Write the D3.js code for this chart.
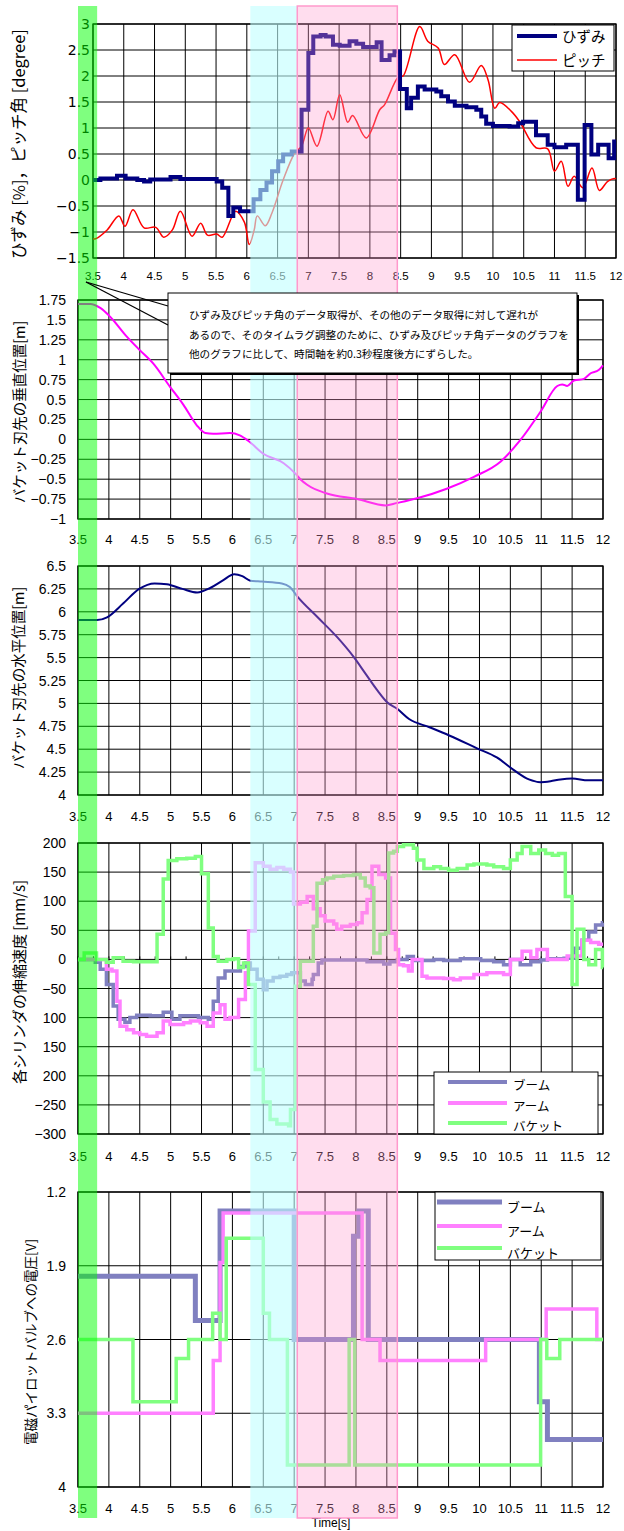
<!DOCTYPE html>
<html>
<head>
<meta charset="utf-8">
<script src="https://cdn.jsdelivr.net/npm/d3@7"></script>
<style>
body { margin: 0; background: #fff; }
</style>
</head>
<body>
<svg id="chart" width="624" height="1531"></svg>
<script>
// ---- data ----
const timeTicks = d3.range(3.5, 12.01, 0.5);

// top panel: strain [%] (step) and pitch [degree]
const strain = [[3.5,0.0],[3.62,0.03],[3.89,0.08],[4.03,0.03],[4.22,0.0],[4.33,-0.03],[4.43,0.01],[4.76,0.06],[4.92,0.02],
  [5.51,-0.03],[5.6,-0.15],[5.7,-0.69],[5.78,-0.53],[5.89,-0.6],[6.08,-0.6],[6.11,-0.37],[6.22,-0.19],[6.32,-0.05],
  [6.41,0.17],[6.51,0.36],[6.59,0.49],[6.73,0.55],[6.89,1.35],[7.0,2.44],[7.08,2.76],[7.2,2.79],[7.28,2.76],[7.4,2.6],
  [7.51,2.58],[7.67,2.67],[7.78,2.62],[7.89,2.56],[8.11,2.65],[8.19,2.31],[8.32,2.4],[8.4,2.47],[8.49,1.75],[8.6,1.38],
  [8.67,1.58],[8.78,1.8],[8.89,1.74],[9.08,1.7],[9.16,1.61],[9.27,1.51],[9.38,1.43],[9.57,1.4],[9.73,1.35],[9.81,1.22],
  [9.89,1.08],[10.0,1.04],[10.27,1.03],[10.41,1.09],[10.49,1.12],[10.7,0.86],[10.89,0.68],[11.0,0.63],[11.19,0.68],
  [11.38,-0.38],[11.49,1.06],[11.6,0.49],[11.71,0.68],[11.88,0.42],[11.97,0.74],[12.0,0.74]];
const pitch = [[3.5,-1.13],[3.54,-1.13],[3.73,-0.96],[3.92,-0.69],[4.02,-0.89],[4.15,-0.57],[4.33,-0.92],[4.52,-0.91],
  [4.65,-1.1],[4.79,-0.96],[4.92,-0.6],[5.11,-1.08],[5.25,-0.83],[5.36,-1.06],[5.51,-1.04],[5.6,-1.1],[5.82,-0.6],
  [5.96,-0.81],[6.04,-1.24],[6.12,-0.96],[6.17,-0.69],[6.3,-0.88],[6.41,-0.63],[6.59,0.0],[6.78,0.52],[6.89,0.65],
  [7.0,1.0],[7.14,0.65],[7.32,1.32],[7.4,1.16],[7.51,1.64],[7.64,1.11],[7.72,1.24],[7.94,0.81],[8.16,1.35],[8.24,1.45],
  [8.46,1.98],[8.54,2.0],[8.81,2.95],[8.94,2.67],[9.11,2.54],[9.21,2.22],[9.38,2.41],[9.62,1.88],[9.81,2.2],[9.92,1.93],
  [10.03,1.38],[10.11,1.49],[10.3,1.32],[10.43,1.13],[10.7,0.62],[10.89,0.6],[11.0,0.17],[11.11,0.36],[11.22,-0.12],
  [11.32,0.07],[11.46,-0.15],[11.61,0.23],[11.73,-0.2],[11.86,-0.03],[11.97,0.03],[12.0,0.02]];

// bucket tip vertical / horizontal position [m]
const vertPos = [[3.5,1.7],[3.7,1.7],[3.86,1.65],[4.02,1.54],[4.29,1.29],[4.5,1.12],[4.72,0.95],[4.99,0.66],[5.21,0.43],
  [5.42,0.18],[5.56,0.08],[5.69,0.07],[5.96,0.08],[6.12,0.05],[6.26,-0.02],[6.5,-0.18],[6.83,-0.3],[7.02,-0.43],[7.1,-0.5],
  [7.21,-0.57],[7.53,-0.68],[8.02,-0.75],[8.48,-0.83],[8.66,-0.8],[8.99,-0.74],[9.47,-0.62],[9.91,-0.47],[10.34,-0.28],
  [10.66,-0.01],[10.99,0.35],[11.26,0.67],[11.34,0.69],[11.42,0.67],[11.53,0.74],[11.69,0.76],[11.8,0.83],[11.93,0.87],[12.0,0.93]];
const horizPos = [[3.5,5.91],[3.81,5.91],[3.97,5.94],[4.23,6.09],[4.49,6.25],[4.74,6.31],[4.94,6.3],[5.19,6.25],[5.43,6.21],
  [5.64,6.26],[5.84,6.34],[6.03,6.41],[6.16,6.39],[6.29,6.34],[6.48,6.33],[6.8,6.31],[6.93,6.27],[7.06,6.16],[7.38,5.94],
  [7.7,5.72],[7.96,5.51],[8.16,5.32],[8.35,5.14],[8.51,5.01],[8.67,4.94],[8.86,4.83],[9.19,4.74],[9.51,4.65],[9.96,4.51],
  [10.28,4.41],[10.54,4.28],[10.8,4.17],[10.99,4.14],[11.15,4.15],[11.31,4.17],[11.5,4.18],[11.76,4.16],[12.0,4.16]];

// cylinder speeds [mm/s] (step)
const boomVel = [[3.5,0],[3.78,-5],[3.86,-17],[3.96,-43],[4.07,-80],[4.15,-103],[4.26,-108],[4.34,-100],[4.45,-96],[4.67,-97],
  [4.88,-91],[5.02,-103],[5.15,-97],[5.45,-100],[5.61,-103],[5.69,-72],[5.77,-32],[5.88,-20],[6.13,-12],[6.21,-6],[6.29,-17],
  [6.4,-34],[6.5,-52],[6.56,-37],[6.66,-31],[6.77,-29],[6.88,-26],[6.96,-23],[7.1,-37],[7.18,-43],[7.29,-34],[7.31,-26],
  [7.39,-6],[7.45,-1],[8.18,-4],[8.45,-8],[8.55,-4],[8.67,0],[8.83,5],[8.93,-2],[9.26,0],[9.42,-2],[9.69,1],[10.02,-2],
  [10.23,-4],[10.39,-9],[10.5,0],[10.66,-9],[10.83,-4],[10.99,-1],[11.1,1],[11.37,2],[11.53,19],[11.66,33],[11.77,47],
  [11.88,59],[11.99,63],[12.0,63]];
const armVel = [[3.5,0],[3.96,-17],[4.05,-20],[4.13,-72],[4.18,-115],[4.29,-121],[4.4,-126],[4.5,-129],[4.61,-132],[4.78,-126],
  [4.88,-106],[4.99,-112],[5.21,-109],[5.32,-106],[5.48,-109],[5.59,-115],[5.69,-92],[5.8,-78],[5.88,-103],[5.96,-100],
  [6.1,-69],[6.21,-23],[6.26,49],[6.37,166],[6.5,160],[6.61,155],[6.72,158],[6.83,155],[6.94,150],[6.99,95],[7.1,98],
  [7.21,108],[7.31,87],[7.42,75],[7.5,66],[7.64,61],[7.69,52],[7.77,57],[7.91,60],[8.02,63],[8.1,80],[8.18,103],[8.26,160],
  [8.37,146],[8.48,140],[8.56,45],[8.64,17],[8.69,-9],[8.77,-11],[8.85,-20],[8.91,0],[9.07,-29],[9.15,-32],[9.42,-33],
  [9.58,-35],[9.69,-32],[9.91,-26],[10.12,-23],[10.39,-26],[10.5,0],[10.69,14],[10.83,3],[10.93,17],[11.1,0],[11.42,6],
  [11.66,33],[11.8,29],[11.93,26],[12.0,26]];
const bucketVel = [[3.5,0],[3.6,11],[3.8,0],[3.96,-5],[4.07,3],[4.23,-3],[4.4,-4],[4.78,43],[4.88,138],[4.96,170],[5.1,173],
  [5.26,174],[5.4,177],[5.5,147],[5.61,54],[5.69,5],[5.77,-3],[5.91,0],[6.02,1],[6.1,-14],[6.18,-6],[6.26,-43],[6.37,-189],
  [6.5,-245],[6.61,-275],[6.72,-283],[6.91,-286],[6.94,-258],[7.02,-46],[7.1,-3],[7.31,57],[7.37,131],[7.46,137],[7.53,140],
  [7.64,143],[7.8,144],[7.96,146],[8.07,140],[8.15,126],[8.23,123],[8.29,11],[8.39,43],[8.48,46],[8.53,183],[8.61,186],
  [8.67,194],[8.77,197],[8.93,191],[8.99,171],[9.1,156],[9.26,159],[9.37,156],[9.5,153],[9.64,156],[9.8,162],[9.91,164],
  [10.12,162],[10.23,159],[10.39,156],[10.5,171],[10.61,182],[10.69,194],[10.83,182],[10.96,188],[11.07,182],[11.18,179],
  [11.28,182],[11.39,108],[11.5,-43],[11.58,52],[11.69,0],[11.77,-9],[11.88,17],[11.99,-14],[12.0,-14]];

// solenoid pilot valve voltage [V] (step)
const boomVolt = [[3.5,2.0],[5.4,2.42],[5.8,1.38],[7.0,2.6],[7.96,1.62],[8.05,1.38],[8.2,2.6],[10.97,3.19],[11.1,3.55],[12.0,3.55]];
const armVolt = [[3.5,3.3],[5.69,2.8],[5.8,1.87],[5.85,1.4],[8.1,2.6],[8.39,2.8],[10.1,2.6],[11.08,2.31],[11.9,2.6],[12.0,2.6]];
const bucketVolt = [[3.5,2.6],[4.39,3.19],[5.09,2.78],[5.29,2.6],[5.68,2.35],[5.8,2.6],[5.9,1.64],[6.5,2.35],[6.6,2.6],
  [6.89,3.79],[7.89,2.6],[7.98,3.79],[10.99,2.6],[11.09,2.78],[11.3,2.6],[12.0,2.6]];

// tick values / labels
const strainTicks = d3.range(-1.5, 3.01, 0.5);
const vertTicks = d3.range(-1, 1.751, 0.25);
const horizTicks = d3.range(4, 6.51, 0.25);
const velTicks = d3.range(-300, 201, 50);
const velTickLabels = ["\u2212300", "\u2212250", "200", "150", "100", "\u221250", "0", "50", "100", "150", "200"];
const voltTicks = [1.2, 1.9, 2.6, 3.3, 4];

// highlighted time spans (in the time scale of the lower four panels)
const greenSpan = [3.5, 3.81];
const cyanSpan = [6.29, 7.05];
const pinkSpan = [7.05, 8.67];

const legendStrain = ["ひずみ", "ピッチ"];
const legendCyl = ["ブーム", "アーム", "バケット"];
const noteLines = [
  "ひずみ及びピッチ角のデータ取得が、その他のデータ取得に対して遅れが",
  "あるので、そのタイムラグ調整のために、ひずみ及びピッチ角データのグラフを",
  "他のグラフに比して、時間軸を約0.3秒程度後方にずらした。"
];

const jp = "'Noto Sans CJK JP', sans-serif";
const num = "'Liberation Sans', Arial, sans-serif";
const svg = d3.select("#chart");

function panel(o) {
  const x = d3.scaleLinear().domain([3.5, 12]).range([o.x0, o.x1]);
  const y = d3.scaleLinear().domain(o.yDomain).range([o.y1, o.y0]);
  const g = svg.append("g");

  g.selectAll(".vg").data(timeTicks).join("line")
    .attr("x1", d => x(d)).attr("x2", d => x(d))
    .attr("y1", o.y0).attr("y2", o.y1)
    .attr("stroke", "#000").attr("stroke-width", 1);
  g.selectAll(".hg").data(o.yTicks).join("line")
    .attr("x1", o.x0).attr("x2", o.x1)
    .attr("y1", d => y(d)).attr("y2", d => y(d))
    .attr("stroke", "#000").attr("stroke-width", 1);
  g.append("rect")
    .attr("x", o.x0).attr("y", o.y0)
    .attr("width", o.x1 - o.x0).attr("height", o.y1 - o.y0)
    .attr("fill", "none").attr("stroke", "#000").attr("stroke-width", 1.3);

  g.selectAll(".yl").data(o.yTicks).join("text")
    .attr("x", o.yLabelX).attr("y", d => y(d)).attr("dy", "0.36em")
    .attr("text-anchor", "end")
    .attr("font-family", o.yFont || num).attr("font-size", o.yFontSize)
    .text((d, i) => o.yFormat(d, i));
  g.selectAll(".xl").data(timeTicks).join("text")
    .attr("x", d => x(d)).attr("y", o.xLabelY)
    .attr("text-anchor", "middle")
    .attr("font-family", num).attr("font-size", o.xFontSize)
    .text(d => d3.format("")(d));

  g.append("text")
    .attr("transform", `translate(${o.titleX},${o.titleY}) rotate(-90)`)
    .attr("text-anchor", "middle")
    .attr("font-family", jp).attr("font-size", o.titleSize)
    .text(o.title);
  return { x, y, g };
}

function drawLine(p, data, color, width, curve) {
  p.g.append("path")
    .datum(data)
    .attr("fill", "none")
    .attr("stroke", color)
    .attr("stroke-width", width)
    .attr("stroke-linejoin", "miter")
    .attr("d", d3.line().x(d => p.x(d[0])).y(d => p.y(d[1])).curve(curve));
}

function legend(g, box, items, colors, widths, lineX0, lineX1, rowY, textX, textDy, fontSize) {
  g.append("rect")
    .attr("x", box[0]).attr("y", box[1]).attr("width", box[2]).attr("height", box[3])
    .attr("fill", "#fff").attr("stroke", "#000").attr("stroke-width", 1);
  items.forEach((name, i) => {
    g.append("line")
      .attr("x1", lineX0).attr("x2", lineX1).attr("y1", rowY[i]).attr("y2", rowY[i])
      .attr("stroke", colors[i]).attr("stroke-width", widths[i]);
    g.append("text")
      .attr("x", textX).attr("y", rowY[i] + textDy)
      .attr("font-family", jp).attr("font-size", fontSize)
      .text(name);
  });
}

// ---- panel 1: strain & pitch ----
const p1 = panel({
  x0: 93, x1: 616, y0: 24, y1: 258, yDomain: [-1.5, 3], yTicks: strainTicks,
  yLabelX: 90, yFont: "'DejaVu Sans', sans-serif", yFontSize: 14, yFormat: d => d3.format("")(d),
  xLabelY: 280, xFontSize: 11.5,
  title: "ひずみ [%]，ピッチ角 [degree]", titleX: 25, titleY: 144, titleSize: 16.5
});
drawLine(p1, pitch, "#ff0000", 1.5, d3.curveCatmullRom.alpha(0.5));
drawLine(p1, strain, "#000080", 4, d3.curveStepAfter);
legend(p1.g, [512, 25, 102, 46], legendStrain, ["#000080", "#ff0000"], [4, 1.5],
  517, 557, [36, 60], 562, 6, 14.5);

// ---- panel 2: vertical position ----
const p2 = panel({
  x0: 78, x1: 603, y0: 300, y1: 519, yDomain: [-1, 1.75], yTicks: vertTicks,
  yLabelX: 66, yFontSize: 14, yFormat: d => d3.format("")(d),
  xLabelY: 544, xFontSize: 13,
  title: "バケット刃先の垂直位置[m]", titleX: 25, titleY: 412, titleSize: 14.5
});
drawLine(p2, vertPos, "#ff00ff", 2, d3.curveMonotoneX);

// ---- panel 3: horizontal position ----
const p3 = panel({
  x0: 78, x1: 603, y0: 566, y1: 795, yDomain: [4, 6.5], yTicks: horizTicks,
  yLabelX: 66, yFontSize: 14, yFormat: d => d3.format("")(d),
  xLabelY: 821, xFontSize: 13,
  title: "バケット刃先の水平位置[m]", titleX: 24, titleY: 678, titleSize: 14.5
});
drawLine(p3, horizPos, "#000080", 2, d3.curveMonotoneX);

// ---- panel 4: cylinder speed ----
const p4 = panel({
  x0: 78, x1: 603, y0: 843, y1: 1134, yDomain: [-300, 200], yTicks: velTicks,
  yLabelX: 66, yFontSize: 14, yFormat: (d, i) => velTickLabels[i],
  xLabelY: 1161, xFontSize: 13,
  title: "各シリンダの伸縮速度 [mm/s]", titleX: 25, titleY: 982, titleSize: 15
});
p4.g.selectAll(".mt").data(d3.range(3.5, 12.01, 0.25)).join("line")
  .attr("x1", d => p4.x(d)).attr("x2", d => p4.x(d))
  .attr("y1", p4.y(0)).attr("y2", p4.y(0) - 3)
  .attr("stroke", "#000");
drawLine(p4, boomVel, "#8080c0", 3.5, d3.curveStepAfter);
drawLine(p4, armVel, "#ff80ff", 3.5, d3.curveStepAfter);
drawLine(p4, bucketVel, "#80ff80", 3.5, d3.curveStepAfter);
legend(p4.g, [434, 1072, 164, 62], legendCyl, ["#8080c0", "#ff80ff", "#80ff80"], [4, 4, 4],
  448, 507, [1082, 1103, 1123], 513, 8, 12.5);

// ---- panel 5: pilot valve voltage ----
const p5 = panel({
  x0: 78, x1: 603, y0: 1192, y1: 1487, yDomain: [4, 1.2], yTicks: voltTicks,
  yLabelX: 66, yFontSize: 14, yFormat: d => d3.format("")(d),
  xLabelY: 1513, xFontSize: 13,
  title: "電磁パイロットバルブへの電圧[V]", titleX: 36, titleY: 1342, titleSize: 13.5
});
drawLine(p5, boomVolt, "#8080c0", 5, d3.curveStepAfter);
drawLine(p5, armVolt, "#ff80ff", 3.5, d3.curveStepAfter);
drawLine(p5, bucketVolt, "#80ff80", 3.5, d3.curveStepAfter);
legend(p5.g, [435, 1192, 166, 68], legendCyl, ["#8080c0", "#ff80ff", "#80ff80"], [5, 4, 4],
  437, 502, [1202, 1226, 1248], 507, 10, 13);

svg.append("text")
  .attr("x", 331).attr("y", 1527)
  .attr("text-anchor", "middle")
  .attr("font-family", num).attr("font-size", 12)
  .text("Time[s]");

// ---- highlighted spans over the whole figure ----
const xs = p2.x;
svg.append("rect")
  .attr("x", xs(greenSpan[0])).attr("y", 6)
  .attr("width", xs(greenSpan[1]) - xs(greenSpan[0])).attr("height", 1512)
  .attr("fill", "#00ff00").attr("fill-opacity", 0.5);
svg.append("rect")
  .attr("x", xs(cyanSpan[0])).attr("y", 6)
  .attr("width", xs(cyanSpan[1]) - xs(cyanSpan[0])).attr("height", 1512)
  .attr("fill", "#bfffff").attr("fill-opacity", 0.6);
svg.append("rect")
  .attr("x", xs(pinkSpan[0])).attr("y", 6)
  .attr("width", xs(pinkSpan[1]) - xs(pinkSpan[0])).attr("height", 1512)
  .attr("fill", "#ff99cc").attr("fill-opacity", 0.33)
  .attr("stroke", "#ff99cc").attr("stroke-width", 1.5);

// ---- callout note ----
const note = svg.append("g");
note.append("line").attr("x1", 86).attr("y1", 282).attr("x2", 168).attr("y2", 306)
  .attr("stroke", "#000").attr("stroke-width", 1.3);
note.append("line").attr("x1", 86).attr("y1", 282).attr("x2", 168).attr("y2", 325)
  .attr("stroke", "#000").attr("stroke-width", 1.3);
note.append("rect").attr("x", 170).attr("y", 295).attr("width", 409).attr("height", 80)
  .attr("fill", "#000");
note.append("rect").attr("x", 168).attr("y", 293).attr("width", 409).attr("height", 80)
  .attr("fill", "#fff").attr("stroke", "#000").attr("stroke-width", 1);
note.selectAll(".nl").data(noteLines).join("text")
  .attr("x", 189).attr("y", (d, i) => 319 + i * 19.7)
  .attr("font-family", jp).attr("font-size", 10.6)
  .text(d => d);
</script>
</body>
</html>
